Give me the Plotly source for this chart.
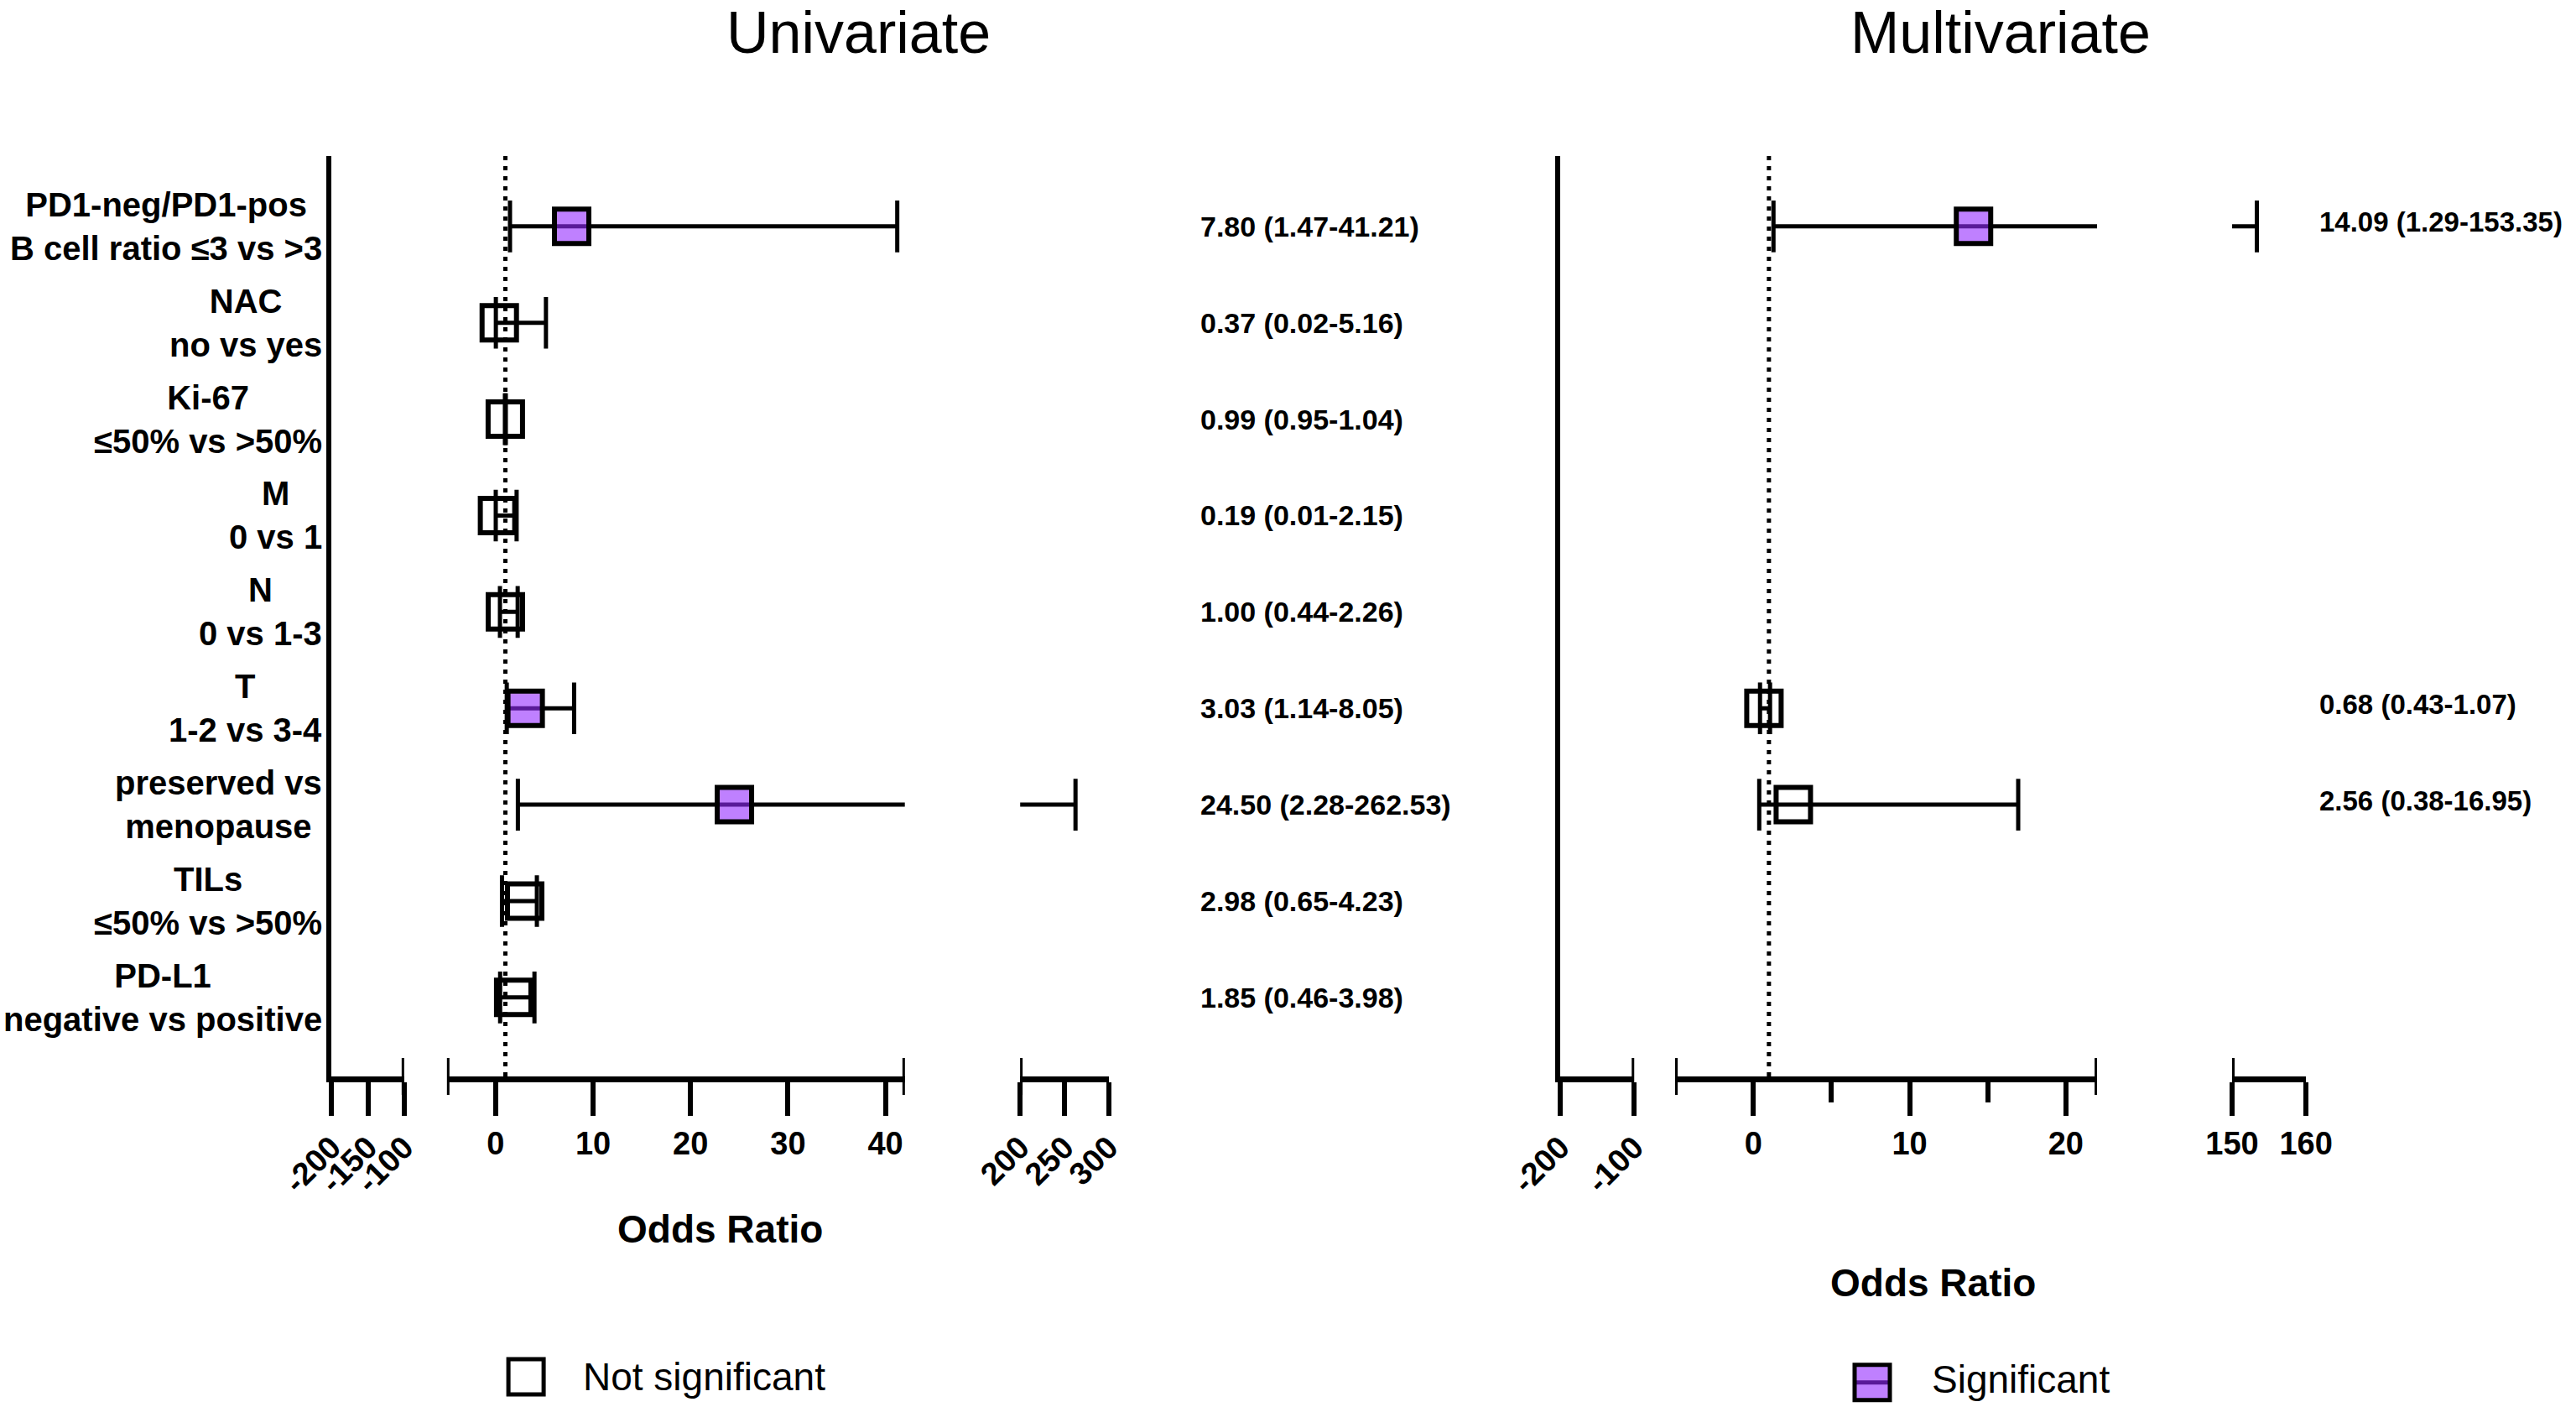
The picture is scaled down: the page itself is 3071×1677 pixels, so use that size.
import plotly.graph_objects as go

# rows, top to bottom
labels = ["PD1-neg/PD1-pos<br>B cell ratio ≤3 vs >3", "NAC<br>no vs yes", "Ki-67<br>≤50% vs >50%",
          "M<br>0 vs 1", "N<br>0 vs 1-3", "T<br>1-2 vs 3-4", "preserved vs<br>menopause",
          "TILs<br>≤50% vs >50%", "PD-L1<br>negative vs positive"]

# univariate odds ratios and 95% CI
uni_or = [7.80, 0.37, 0.99, 0.19, 1.00, 3.03, 24.50, 2.98, 1.85]
uni_lo = [1.47, 0.02, 0.95, 0.01, 0.44, 1.14, 2.28, 0.65, 0.46]
uni_hi = [41.21, 5.16, 1.04, 2.15, 2.26, 8.05, 262.53, 4.23, 3.98]
uni_sig = [True, False, False, False, False, True, True, False, False]

# multivariate odds ratios and 95% CI (only 3 variables kept)
multi_or = [14.09, None, None, None, None, 0.68, 2.56, None, None]
multi_lo = [1.29, None, None, None, None, 0.43, 0.38, None, None]
multi_hi = [153.35, None, None, None, None, 1.07, 16.95, None, None]
multi_sig = [True, False, False, False, False, False, False, False, False]

# broken x axis segments
uni_segs = [(-200, -100), (-5, 42), (200, 300)]
uni_ticks = [[-200, -150, -100], [0, 10, 20, 30, 40], [200, 250, 300]]
uni_ticktext = [["-200", "-150", "-100"], ["0", "10", "20", "30", "40"], ["200", "250", "300"]]
multi_segs = [(-200, -100), (-5, 22), (150, 160)]
multi_ticks = [[-200, -100], [0, 10, 20], [150, 160]]
multi_ticktext = [["-200", "-100"], ["0", "10", "20"], ["150", "160"]]
multi_minor = [[], [5, 15], []]
ref_value = 1

FONT = "Liberation Sans"
PURPLE = "rgba(148,43,255,0.6)"

uni_dom = [(0.1287, 0.1569), (0.1735, 0.3513), (0.3960, 0.4304)]
multi_dom = [(0.6057, 0.6344), (0.6503, 0.8141), (0.8665, 0.8952)]
y_dom = (0.2349, 0.8891)
y_range = [8.82, -0.73]

fig = go.Figure()


def add_panel(ors, los, his, sig, segs, xnames, yname):
    for (a, b), xa in zip(segs, xnames):
        lx, ly, cx, cy = [], [], [], []
        for i, o in enumerate(ors):
            if o is None:
                continue
            lo, hi = los[i], his[i]
            if hi >= a and lo <= b:
                lx += [max(lo, a), min(hi, b), None]
                ly += [i, i, None]
            for v in (lo, hi):
                if a <= v <= b:
                    cx.append(v)
                    cy.append(i)
        fig.add_trace(go.Scatter(x=lx, y=ly, mode="lines", line=dict(color="black", width=5),
                                 xaxis=xa, yaxis=yname, showlegend=False, hoverinfo="skip"))
        fig.add_trace(go.Scatter(x=cx, y=cy, mode="markers",
                                 marker=dict(symbol="line-ns", size=44, line=dict(width=5, color="black")),
                                 xaxis=xa, yaxis=yname, showlegend=False, hoverinfo="skip"))
        for flag, fill in ((False, "rgba(0,0,0,0)"), (True, PURPLE)):
            px = [o for i, o in enumerate(ors) if o is not None and sig[i] == flag and a <= o <= b]
            py = [i for i, o in enumerate(ors) if o is not None and sig[i] == flag and a <= o <= b]
            fig.add_trace(go.Scatter(x=px, y=py, mode="markers",
                                     marker=dict(symbol="square", size=41, color=fill,
                                                 line=dict(width=6, color="black")),
                                     xaxis=xa, yaxis=yname, showlegend=False))


add_panel(uni_or, uni_lo, uni_hi, uni_sig, uni_segs, ["x", "x2", "x3"], "y")
add_panel(multi_or, multi_lo, multi_hi, multi_sig, multi_segs, ["x4", "x5", "x6"], "y2")

layout = dict(
    width=3071, height=1677, margin=dict(l=0, r=0, t=0, b=0, pad=0),
    plot_bgcolor="white", paper_bgcolor="white",
    font=dict(family=FONT, color="black"),
    showlegend=False,
)

axis_common = dict(showline=True, linewidth=7, linecolor="black", ticks="outside", ticklen=40,
                   tickwidth=6, tickcolor="black", showgrid=False, zeroline=False, automargin=False,
                   tickfont=dict(family=FONT, size=38, weight="bold", color="black"))

uni_angles = [-45, 0, -45]
multi_angles = [-45, 0, 0]
shapes = []
for k in range(3):
    name = "xaxis" if k == 0 else "xaxis%d" % (k + 1)
    layout[name] = dict(axis_common, domain=list(uni_dom[k]), range=list(uni_segs[k]), anchor="y",
                        tickmode="array", tickvals=uni_ticks[k], ticktext=uni_ticktext[k],
                        tickangle=uni_angles[k])
    layout["xaxis%d" % (k + 4)] = dict(axis_common, domain=list(multi_dom[k]), range=list(multi_segs[k]),
                                       anchor="y2", tickmode="array", tickvals=multi_ticks[k],
                                       ticktext=multi_ticktext[k], tickangle=multi_angles[k],
                                       minor=dict(tickmode="array", tickvals=multi_minor[k], ticks="outside",
                                                  ticklen=24, tickwidth=6, tickcolor="black", showgrid=False))
    # break caps at the inner ends of each segment
    for segs, xr in ((uni_segs, "x" if k == 0 else "x%d" % (k + 1)), (multi_segs, "x%d" % (k + 4))):
        ends = []
        if k > 0:
            ends.append(segs[k][0])
        if k < 2:
            ends.append(segs[k][1])
        for e in ends:
            shapes.append(dict(type="line", xref=xr, x0=e, x1=e, yref="paper", ysizemode="pixel",
                               yanchor=y_dom[0], y0=-22, y1=22, line=dict(color="black", width=6)))

for yname, anchor in (("yaxis", "x"), ("yaxis2", "x4")):
    layout[yname] = dict(domain=list(y_dom), range=y_range, anchor=anchor, showline=True, linewidth=6,
                         linecolor="black", showticklabels=False, ticks="", showgrid=False,
                         zeroline=False, automargin=False)

# reference lines at OR = 1
for xr, yr in (("x2", "y domain"), ("x5", "y2 domain")):
    shapes.append(dict(type="line", xref=xr, x0=ref_value, x1=ref_value, yref=yr, y0=0, y1=1,
                       line=dict(color="black", width=5, dash="5px,7px")))

annotations = []
for i, lab in enumerate(labels):
    annotations.append(dict(text=lab, xref="paper", x=0.1257, yref="y", y=i, xanchor="right",
                            yanchor="middle", align="center", showarrow=False,
                            font=dict(size=40, weight="bold", family=FONT)))
    annotations.append(dict(text="%.2f (%.2f-%.2f)" % (uni_or[i], uni_lo[i], uni_hi[i]),
                            xref="paper", x=0.4654, yref="y", y=i, xanchor="left", yanchor="middle",
                            showarrow=False, font=dict(size=34, weight="bold", family=FONT)))
    if multi_or[i] is not None:
        annotations.append(dict(text="%.2f (%.2f-%.2f)" % (multi_or[i], multi_lo[i], multi_hi[i]),
                                xref="paper", x=0.8997, yref="y2", y=i, xanchor="left", yanchor="middle",
                                yshift=5, showarrow=False, font=dict(size=33, weight="bold", family=FONT)))

annotations += [
    dict(text="Univariate", x=0.3334, y=0.9765),
    dict(text="Multivariate", x=0.7766, y=0.9765),
    dict(text="<b>Odds Ratio</b>", x=0.2794, y=0.1264),
    dict(text="<b>Odds Ratio</b>", x=0.7505, y=0.0882),
]
for a in annotations[-4:]:
    a.update(xref="paper", yref="paper", xanchor="center", yanchor="middle", showarrow=False,
             font=dict(size=70 if "variate" in a["text"] else 46, family=FONT))
annotations += [
    dict(text="Not significant", xref="paper", yref="paper", x=0.2257, y=0.0215, xanchor="left",
         yanchor="middle", showarrow=False, font=dict(size=46, family=FONT)),
    dict(text="Significant", xref="paper", yref="paper", x=0.7493, y=0.0195, xanchor="left",
         yanchor="middle", showarrow=False, font=dict(size=46, family=FONT)),
]

# legend icons
shapes += [
    dict(type="rect", xref="paper", yref="paper", xsizemode="pixel", ysizemode="pixel",
         xanchor=0.2042, yanchor=0.0215, x0=-21, x1=21, y0=-21, y1=21,
         line=dict(color="black", width=5), fillcolor="rgba(0,0,0,0)"),
    dict(type="line", xref="paper", yref="paper", xsizemode="pixel", ysizemode="pixel",
         xanchor=0.7268, yanchor=0.0175, x0=-21, x1=21, y0=0, y1=0,
         line=dict(color="black", width=5)),
    dict(type="rect", xref="paper", yref="paper", xsizemode="pixel", ysizemode="pixel",
         xanchor=0.7268, yanchor=0.0175, x0=-21, x1=21, y0=-21, y1=21,
         line=dict(color="black", width=5), fillcolor=PURPLE),
]

layout["shapes"] = shapes
layout["annotations"] = annotations
fig.update_layout(**layout)

fig.write_html("out.html", config={"displayModeBar": False},
               post_script="document.body.style.margin = '0';")
